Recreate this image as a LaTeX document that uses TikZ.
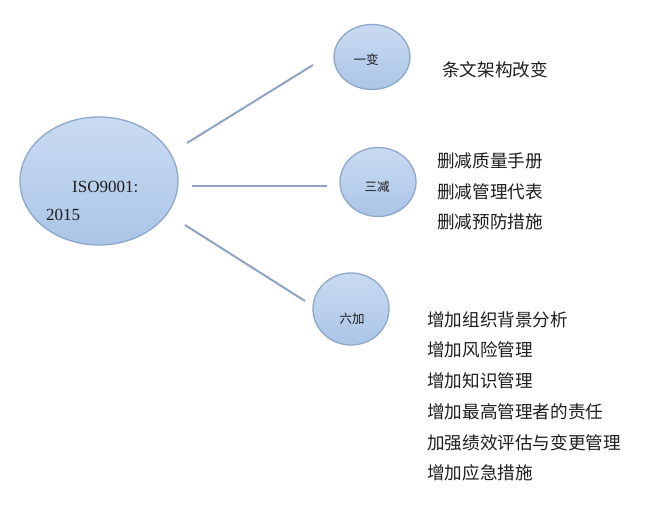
\documentclass[tikz,border=0pt]{standalone}
\usepackage{fontspec}
\setmainfont{Liberation Serif}
\newfontfamily\cjk{Noto Sans CJK SC}
\usetikzlibrary{shapes.geometric}
\definecolor{bubtop}{HTML}{C9DBF1}
\definecolor{bubbot}{HTML}{ABC5E7}
\definecolor{bubline}{HTML}{8DA8CC}
\definecolor{linkc}{HTML}{8FA3C3}
\definecolor{txt}{HTML}{1E1E1E}
\tikzset{
  bubble/.style={ellipse, draw=bubline, line width=1.3pt, top color=bubtop, bottom color=bubbot, inner sep=0pt},
  link/.style={draw=linkc, line width=2pt},
  bublabel/.style={font=\cjk\fontsize{12.5}{14}\selectfont, text=txt, inner sep=0pt},
  item/.style={font=\cjk\fontsize{17.6}{20}\selectfont, text=txt, anchor=west, inner sep=0pt},
  isotext/.style={font=\fontsize{17}{19}\selectfont, text=txt, anchor=west, inner sep=0pt}
}
\begin{document}
\begin{tikzpicture}[x=1pt,y=-1pt]
\useasboundingbox (0,0) rectangle (654,527);
\fill[white] (0,0) rectangle (654,527);
% bubbles
\node[bubble, minimum width=158pt, minimum height=128pt] (iso) at (99,181) {};
\node[bubble, minimum width=76pt, minimum height=65pt] (c1) at (372,57) {};
\node[bubble, minimum width=76pt, minimum height=69pt] (c2) at (378,182) {};
\node[bubble, minimum width=76pt, minimum height=72pt] (c3) at (351,309) {};
% labels in bubbles
\node[isotext] (isoa) at (72,187) {ISO9001:};
\node[isotext] (isob) at (46,215) {2015};
\node[bublabel] (l1) at (366,60) {一变};
\node[bublabel] (l2) at (377,187) {三减};
\node[bublabel] (l3) at (352,319) {六加};
% connectors
\coordinate (a1) at (187,143); \coordinate (b1) at (313,65);
\coordinate (a2) at (192,186); \coordinate (b2) at (327,186);
\coordinate (a3) at (185,225); \coordinate (b3) at (305,301);
\draw[link] (a1) -- (b1);
\draw[link] (a2) -- (b2);
\draw[link] (a3) -- (b3);
% item texts
\node[item] (t1) at (442,70) {条文架构改变};
\node[item] (t21) at (437,161) {删减质量手册};
\node[item] (t22) at (437,192) {删减管理代表};
\node[item] (t23) at (437,222) {删减预防措施};
\node[item] (t31) at (427,320) {增加组织背景分析};
\node[item] (t32) at (427,350) {增加风险管理};
\node[item] (t33) at (427,381) {增加知识管理};
\node[item] (t34) at (427,412) {增加最高管理者的责任};
\node[item] (t35) at (427,443) {加强绩效评估与变更管理};
\node[item] (t36) at (427,473) {增加应急措施};
\end{tikzpicture}
\end{document}
